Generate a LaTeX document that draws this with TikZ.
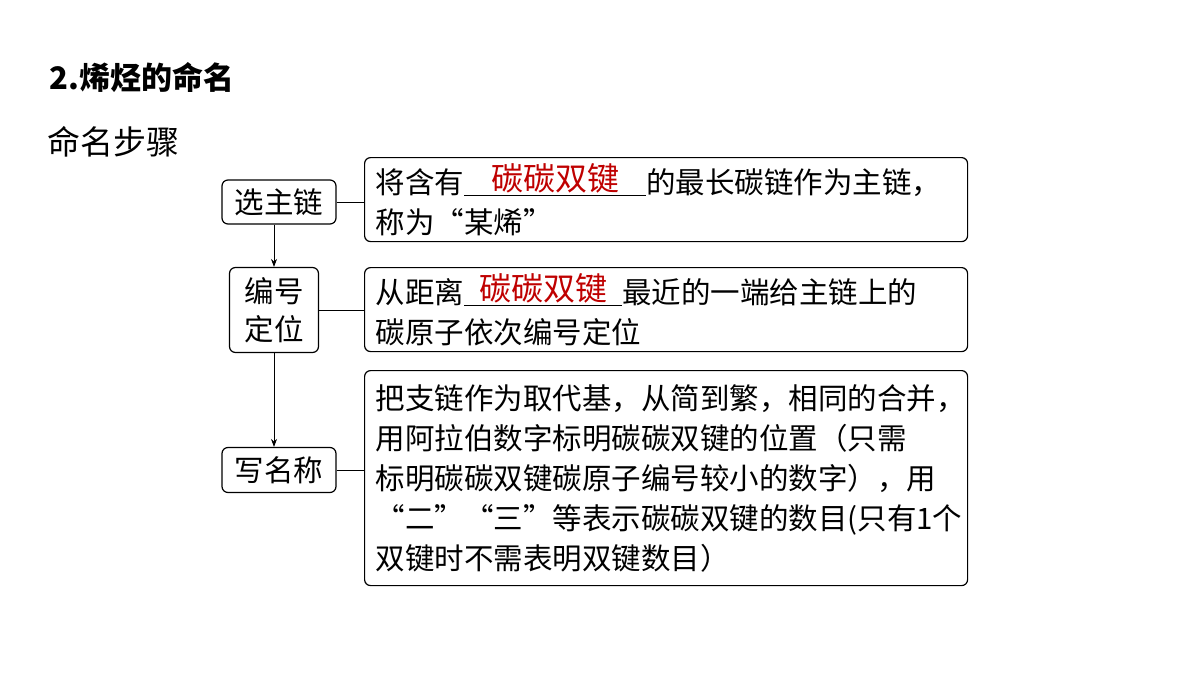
\documentclass[tikz,border=0pt]{standalone}
\usepackage{fontspec}
\setmainfont{Noto Sans CJK SC}
\usetikzlibrary{arrows.meta}
\newcommand{\blankfill}[2]{\underline{\hbox to #1{\hfil\raisebox{3pt}{\fontsize{32}{40}\selectfont\color{red!75!black}#2}\hfil}}}
\begin{document}
\begin{tikzpicture}[x=1pt,y=-1pt,
  bx/.style={draw,line width=1.2pt,rounded corners=6pt,font=\fontsize{29.5}{40}\selectfont},
  rb/.style={bx,anchor=north west,align=left,text width=581pt,inner xsep=11pt,inner ysep=2pt},
  lb/.style={bx,align=center,inner sep=4pt},
  arr/.style={-{Stealth[length=8pt,width=6pt]},line width=0.8pt},
  ln/.style={line width=0.8pt}]
\useasboundingbox (0,0) rectangle (1200,675);
\node[anchor=west,font=\fontsize{31}{34}\selectfont\bfseries] (title) at (46,78) {2.烯烃的命名};
\node[anchor=west,font=\fontsize{33}{36}\selectfont] (sub) at (44,142) {命名步骤};
\node[rb,minimum height=84pt] (r1) at (364,157) {将含有\blankfill{182pt}{碳碳双键}的最长碳链作为主链，\\称为“某烯”};
\node[rb,minimum height=84pt] (r2) at (364,267) {从距离\blankfill{158pt}{碳碳双键}最近的一端给主链上的\\碳原子依次编号定位};
\node[rb,minimum height=215pt] (r3) at (364,370) {把支链作为取代基，从简到繁，相同的合并，\\用阿拉伯数字标明碳碳双键的位置（只需\\标明碳碳双键碳原子编号较小的数字），用\\“二”“三”等表示碳碳双键的数目(只有1个\\双键时不需表明双键数目）};
\node[lb,minimum width=114pt,minimum height=44pt] (l1) at (279,202) {选主链};
\node[lb,minimum width=89pt,minimum height=85pt,font=\fontsize{29.5}{38}\selectfont] (l2) at (274,310) {编号\\定位};
\node[lb,minimum width=114pt,minimum height=45pt] (l3) at (279,470) {写名称};
\draw[arr] (l1.south -| l2) -- (l2.north);
\draw[arr] (l2.south) -- (l3.north -| l2);
\draw[ln] (l1.east) -- (l1.east -| r1.west);
\draw[ln] (l2.east) -- (l2.east -| r2.west);
\draw[ln] (l3.east) -- (l3.east -| r3.west);
\end{tikzpicture}
\end{document}
